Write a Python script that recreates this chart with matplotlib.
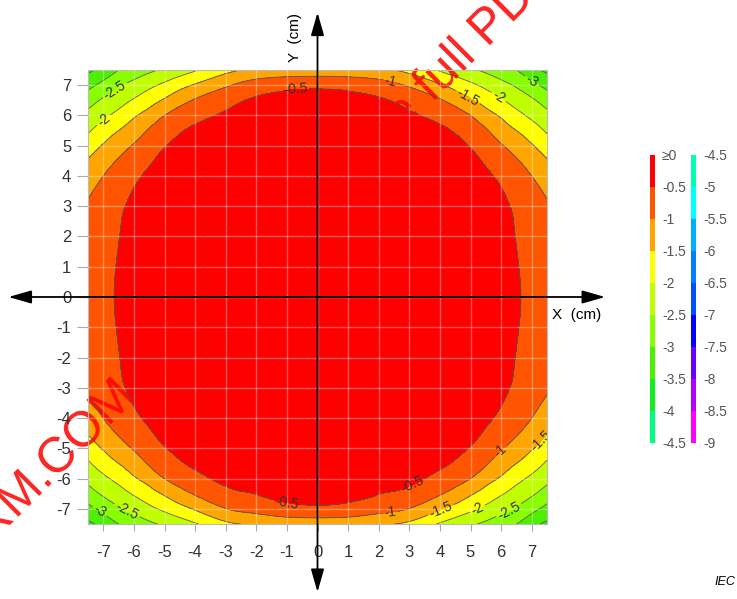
import numpy as np
import matplotlib.pyplot as plt
import matplotlib.tri as mtri
from matplotlib.textpath import TextPath
from matplotlib.patches import PathPatch
from matplotlib.font_manager import FontProperties
from matplotlib.transforms import Affine2D

plt.rcParams['axes.unicode_minus'] = False
NARROW = ['Liberation Sans Narrow', 'Liberation Sans', 'DejaVu Sans']
plt.rcParams['font.family'] = ['Liberation Sans', 'DejaVu Sans']

# quadrant of the field (dB): rows are |y|, columns are |x| (cm)
grid_cm = [0, 2.5, 4, 5, 5.5, 6, 6.5, 7, 7.5]
row_y0 = [0.00, -0.03, -0.08, -0.14, -0.19, -0.29, -0.44, -0.68, -0.92]
row_y25 = [-0.03, -0.05, -0.10, -0.18, -0.26, -0.38, -0.54, -0.78, -0.93]
row_y4 = [-0.08, -0.10, -0.18, -0.30, -0.43, -0.58, -0.78, -1.00, -1.22]
row_y5 = [-0.14, -0.18, -0.30, -0.52, -0.72, -0.96, -1.20, -1.46, -1.77]
row_y55 = [-0.19, -0.25, -0.42, -0.72, -0.95, -1.25, -1.50, -1.77, -2.06]
row_y6 = [-0.27, -0.36, -0.64, -1.00, -1.30, -1.56, -1.85, -2.10, -2.36]
row_y65 = [-0.38, -0.53, -0.96, -1.44, -1.70, -1.95, -2.20, -2.43, -2.72]
row_y7 = [-0.60, -0.90, -1.45, -1.90, -2.12, -2.35, -2.56, -2.85, -3.15]
row_y75 = [-1.40, -1.50, -2.05, -2.42, -2.60, -2.78, -3.00, -3.35, -3.60]

# colour bands, from the top (>= 0) down to -9
band_colors = ['#ff0000', '#ff5500', '#ffa500', '#ffff00', '#c0ff00', '#88ff00',
               '#4cf000', '#10f020', '#00ff80',
               '#00ffb0', '#00ffff', '#00b0ff', '#0080ff', '#0050ff', '#0000ff',
               '#6a00ff', '#b000ff', '#ff00ff']
left_labels = ['≥0', '-0.5', '-1', '-1.5', '-2', '-2.5', '-3', '-3.5', '-4', '-4.5']
right_labels = ['-4.5', '-5', '-5.5', '-6', '-6.5', '-7', '-7.5', '-8', '-8.5', '-9']
line_levels = [-3.5, -3, -2.5, -2, -1.5, -1, -0.5]

# where the contour labels sit (cm)
label_spots = [(-0.7, 6.85), (-6.5, 6.65), (-6.95, 5.8),
               (2.35, 7.0), (4.85, 6.5), (5.85, 6.5), (6.95, 7.05),
               (3.15, -6.3), (2.35, -7.05), (4.0, -6.95), (5.2, -6.95), (6.2, -6.95),
               (5.95, -5.05), (7.25, -4.7),
               (-7.1, -7.05), (-6.25, -7.1), (-1.0, -6.87)]

W, H = 737, 599
fig = plt.figure(figsize=(W / 100, H / 100), dpi=100)
rect = [88 / W, 1 - 524 / H, 459 / W, 454 / H]

# mirror the quadrant to the whole square
quad = np.array([row_y0, row_y25, row_y4, row_y5, row_y55, row_y6, row_y65, row_y7, row_y75])
pos = np.array(grid_cm)
full = np.concatenate([-pos[::-1], pos[1:]])
idx = np.concatenate([np.arange(len(pos))[::-1], np.arange(1, len(pos))])
Z = quad[np.ix_(idx, idx)]
X, Y = np.meshgrid(full, full)

tri = mtri.Triangulation(X.ravel(), Y.ravel())
interp = mtri.CubicTriInterpolator(tri, Z.ravel(), kind='min_E')
tri_f, z_f = mtri.UniformTriRefiner(tri).refine_field(Z.ravel(), triinterpolator=interp, subdiv=4)
fill_levels = list(np.arange(-9, -0.49, 0.5)) + [10]

# bottom layer: all colour bands
ax0 = fig.add_axes(rect, zorder=0)
ax0.tricontourf(tri_f, z_f, levels=fill_levels, colors=band_colors[::-1])
ax0.set_xlim(-7.5, 7.5)
ax0.set_ylim(-7.5, 7.5)
ax0.axis('off')

# watermark sits between the layers, so the red top band hides it
wm = TextPath((0, 0), 'IECNORM.COM : Click to view the full PDF of IEC 62311', size=0.5,
              prop=FontProperties(family='Liberation Sans'))
wm_tr = Affine2D().rotate_deg(45).translate(-1.22, -0.58) + fig.dpi_scale_trans
fig.add_artist(PathPatch(wm, transform=wm_tr, facecolor='#ff0000', edgecolor='none',
                         alpha=0.85, zorder=1))

# top layer: red band, contour lines, grid, ticks, arrows
ax = fig.add_axes(rect, zorder=2)
ax.patch.set_visible(False)
ax.tricontourf(tri_f, z_f, levels=fill_levels[-2:], colors=band_colors[:1])
cs = ax.tricontour(tri_f, z_f, levels=line_levels, colors='#555555', linewidths=0.6,
                   linestyles='solid')
ax.clabel(cs, fmt=lambda v: f'{v:g}', manual=label_spots, inline=True, inline_spacing=2,
          fontsize=10, colors='#333333')

ax.set_xlim(-7.5, 7.5)
ax.set_ylim(-7.5, 7.5)
ax.set_xticks(range(-7, 8))
ax.set_yticks(range(-7, 8))
ax.set_axisbelow(False)
ax.grid(True, color='white', alpha=0.35, lw=1)
ax.tick_params(axis='both', color='#aaaaaa', labelcolor='#333333', labelsize=12)
ax.tick_params(axis='x', length=5, pad=10)
ax.tick_params(axis='y', length=8, pad=4)
for lab in ax.get_xticklabels() + ax.get_yticklabels():
    lab.set_family(NARROW)
for s in ax.spines.values():
    s.set_color('#bbbbbb')
    s.set_linewidth(0.8)

# axes arrows through the origin
arrow = dict(arrowstyle='<|-|>,head_length=1.4,head_width=0.4', color='black', lw=1.3,
             shrinkA=0, shrinkB=0)
ax.annotate('', xy=(9.4, 0), xytext=(-10.1, 0), arrowprops=arrow, annotation_clip=False, zorder=5)
ax.annotate('', xy=(0, 9.4), xytext=(0, -9.75), arrowprops=arrow, annotation_clip=False, zorder=5)
fig.text(552 / W, 1 - 315 / H, 'X  (cm)', ha='left', va='center', fontsize=11)
fig.text(295 / W, 1 - 38 / H, 'Y  (cm)', ha='center', va='center', rotation=90, fontsize=11)

# the two legend strips
cb1 = fig.add_axes([650 / W, 1 - 443 / H, 5 / W, 288 / H])
cb2 = fig.add_axes([691 / W, 1 - 443 / H, 5 / W, 288 / H])
for cb, labels, colors in [(cb1, left_labels, band_colors[:9]), (cb2, right_labels, band_colors[9:])]:
    edges = [0.0 if l == '≥0' else float(l) for l in labels]
    for k, c in enumerate(colors):
        cb.bar(0, edges[k] - edges[k + 1], bottom=edges[k + 1], width=1, color=c)
    cb.set_xlim(-0.5, 0.5)
    cb.set_ylim(edges[-1], edges[0])
    cb.set_xticks([])
    cb.set_yticks(edges)
    cb.set_yticklabels(labels, family=NARROW)
    cb.yaxis.tick_right()
    cb.tick_params(axis='y', length=0, pad=5, labelsize=10, labelcolor='#555555')
    for s in cb.spines.values():
        s.set_visible(False)

fig.text(735 / W, 1 - 582 / H, 'IEC', ha='right', va='center', fontsize=9, style='italic')

fig.savefig('out.png', dpi=100)
